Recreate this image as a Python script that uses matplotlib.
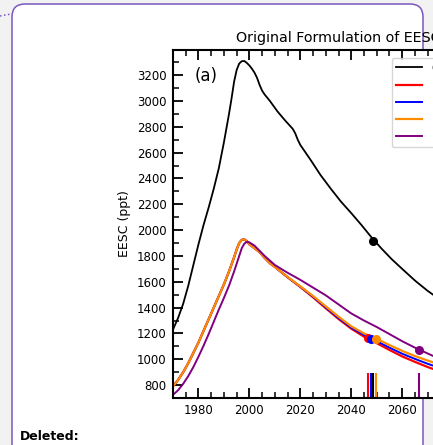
import matplotlib.pyplot as plt
from matplotlib.patches import FancyBboxPatch
from matplotlib.ticker import MultipleLocator
import numpy as np

# black curve
yrs_k = [1970, 1972, 1974, 1976, 1978, 1980, 1982, 1984, 1986, 1988, 1990, 1992, 1993, 1994,
         1995, 1996, 1997, 1998, 1999, 2000, 2001, 2002, 2003, 2004, 2005, 2006, 2008, 2011,
         2014, 2017, 2018, 2019, 2020, 2024, 2028, 2032, 2036, 2040, 2044, 2048, 2052, 2056,
         2060, 2065, 2070, 2075, 2080, 2090, 2100]
eesc_k = [1230, 1320, 1430, 1570, 1730, 1890, 2040, 2175, 2320, 2480, 2680, 2900, 3020, 3150,
          3240, 3290, 3308, 3310, 3295, 3275, 3250, 3220, 3180, 3125, 3080, 3050, 3002, 2920,
          2850, 2785, 2750, 2700, 2660, 2545, 2425, 2320, 2220, 2132, 2040, 1943, 1855, 1773,
          1700, 1610, 1530, 1460, 1400, 1300, 1220]

# coloured curves
yrs_c = [1970, 1972, 1974, 1976, 1978, 1980, 1982, 1984, 1986, 1988, 1990, 1992, 1994, 1995,
         1996, 1997, 1998, 1999, 2000, 2002, 2004, 2006, 2008, 2010, 2015, 2020, 2025, 2030,
         2035, 2040, 2045, 2050, 2055, 2060, 2065, 2070, 2075, 2080, 2090, 2100]
eesc_orange = [790, 840, 900, 970, 1050, 1130, 1220, 1310, 1400, 1490, 1580, 1680, 1790, 1850,
               1900, 1925, 1928, 1915, 1890, 1860, 1830, 1785, 1745, 1715, 1637, 1565, 1490, 1410,
               1330, 1255, 1200, 1158, 1110, 1065, 1025, 990, 958, 930, 880, 840]
eesc_red = [790, 840, 900, 970, 1050, 1130, 1220, 1310, 1400, 1490, 1580, 1680, 1790, 1850,
            1900, 1925, 1928, 1915, 1890, 1860, 1830, 1785, 1745, 1715, 1635, 1560, 1480, 1395,
            1312, 1237, 1175, 1125, 1072, 1022, 980, 940, 905, 875, 820, 775]
eesc_blue = [790, 840, 900, 970, 1050, 1130, 1220, 1310, 1400, 1490, 1580, 1680, 1790, 1850,
             1900, 1925, 1928, 1915, 1890, 1860, 1830, 1785, 1745, 1715, 1636, 1562, 1485, 1402,
             1320, 1245, 1188, 1140, 1090, 1043, 1003, 965, 932, 902, 850, 805]
eesc_purple = [725, 760, 810, 870, 940, 1020, 1105, 1195, 1290, 1385, 1475, 1570, 1680, 1740,
               1800, 1860, 1895, 1910, 1905, 1880, 1840, 1800, 1765, 1730, 1670, 1615, 1555, 1495,
               1425, 1355, 1300, 1250, 1195, 1140, 1090, 1045, 1000, 965, 900, 850]

# return to 1980 level
ret_year = {'k': 2048.7, 'red': 2046.4, 'blue': 2047.9, 'darkorange': 2049.8, 'purple': 2066.5}
ret_val = {'k': 1915, 'red': 1162, 'blue': 1160, 'darkorange': 1160, 'purple': 1075}

labels = ['Original (polar)', 'Mid-latitude, case 1', 'Mid-latitude, case 2',
          'Mid-latitude, case 3', 'Mid-latitude, case 4']

W, H = 433, 445
fig = plt.figure(figsize=(W / 100, H / 100), dpi=100)
fig.patch.set_facecolor('#f2f2f2')

# page / comment balloon
bg = fig.add_axes([0, 0, 1, 1], zorder=0)
bg.set_xlim(0, W)
bg.set_ylim(H, 0)
bg.axis('off')
bg.add_patch(FancyBboxPatch((12, 4), 423 - 12, 460, boxstyle='round,pad=0,rounding_size=13',
                            fc='white', ec='#7b57c0', lw=1.1))
bg.plot([0, 11], [16, 14], ls=':', color='#7b57c0', lw=1.1)
bg.text(20, 437, 'Deleted:', fontsize=9, fontweight='bold', va='center', ha='left')

ax = fig.add_axes([173 / W, 1 - 398 / H, 331 / W, 348 / H], zorder=1)
ax.plot(yrs_k, eesc_k, color='k', lw=1.3, label=labels[0])
ax.plot(yrs_c, eesc_red, color='red', lw=1.6, label=labels[1])
ax.plot(yrs_c, eesc_blue, color='blue', lw=1.4, label=labels[2])
ax.plot(yrs_c, eesc_orange, color='darkorange', lw=1.6, label=labels[3])
ax.plot(yrs_c, eesc_purple, color='purple', lw=1.4, label=labels[4])

for c in ['k', 'red', 'blue', 'darkorange', 'purple']:
    ax.plot(ret_year[c], ret_val[c], 'o', color=c, ms=5.5)
    ax.vlines(ret_year[c], 700, 890, color=c, lw=1.5)

ax.set_xlim(1970, 2100)
ax.set_ylim(700, 3395)
ax.xaxis.set_major_locator(MultipleLocator(20))
ax.xaxis.set_minor_locator(MultipleLocator(5))
ax.yaxis.set_major_locator(MultipleLocator(200))
ax.yaxis.set_minor_locator(MultipleLocator(100))
ax.tick_params(which='both', direction='in', top=True, right=True, labelsize=8.5, pad=4.5)
ax.tick_params(which='major', length=7, width=1.3)
ax.tick_params(which='minor', length=4, width=1.1)
for s in ax.spines.values():
    s.set_linewidth(1.5)

ax.set_ylabel('EESC (ppt)', fontsize=9)
ax.set_title('Original Formulation of EESC', fontsize=10.3, pad=6)
ax.text(0.066, 0.924, '(a)', transform=ax.transAxes, fontsize=12, va='center', ha='left')
ax.legend(loc='upper left', bbox_to_anchor=(0.6616, 0.977), fontsize=8.5, handlelength=2.25,
          labelspacing=0.36, borderpad=0.3, borderaxespad=0)

fig.savefig('out.png', dpi=100, facecolor=fig.get_facecolor())
